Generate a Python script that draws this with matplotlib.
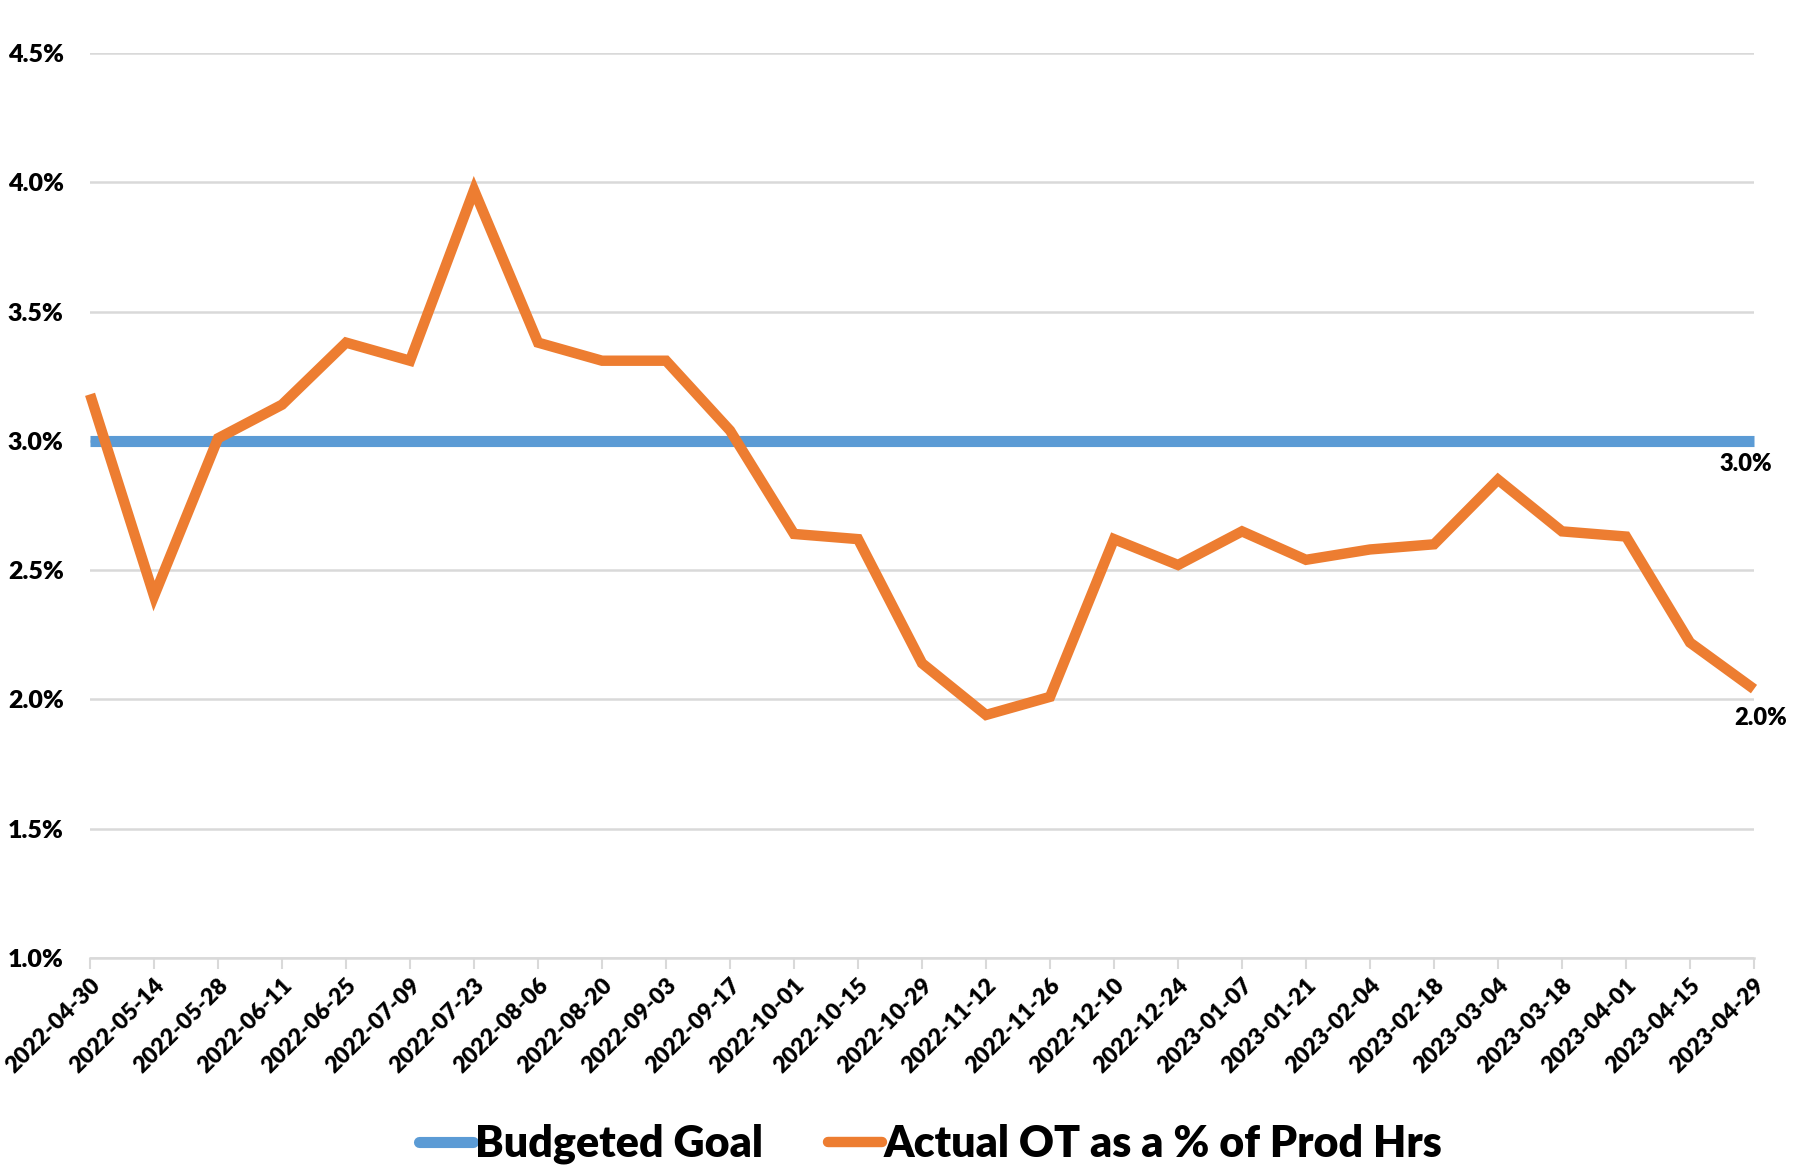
import numpy as np
import matplotlib.pyplot as plt
from matplotlib.ticker import FuncFormatter

# Data
dates = ["2022-04-30", "2022-05-14", "2022-05-28", "2022-06-11", "2022-06-25",
         "2022-07-09", "2022-07-23", "2022-08-06", "2022-08-20", "2022-09-03",
         "2022-09-17", "2022-10-01", "2022-10-15", "2022-10-29", "2022-11-12",
         "2022-11-26", "2022-12-10", "2022-12-24", "2023-01-07", "2023-01-21",
         "2023-02-04", "2023-02-18", "2023-03-04", "2023-03-18", "2023-04-01",
         "2023-04-15", "2023-04-29"]
actual_ot = [3.18, 2.40, 3.01, 3.14, 3.38, 3.31, 3.97, 3.38, 3.31, 3.31,
             3.04, 2.64, 2.62, 2.14, 1.94, 2.01, 2.62, 2.52, 2.65, 2.54,
             2.58, 2.60, 2.85, 2.65, 2.63, 2.22, 2.04]
budget_goal = [3.0] * len(dates)

blue = "#5B9BD5"
orange = "#ED7D31"
grid_col = "#D9D9D9"
font = "Lato"
weight = "heavy"

fig = plt.figure(figsize=(17.94, 11.68), dpi=100)
ax = fig.add_axes([0.0502, 0.1798, 0.9275, 0.7748])

x = np.arange(len(dates))
ax.plot(x, budget_goal, color=blue, lw=8, solid_capstyle="butt", label="Budgeted Goal", zorder=3)
ax.plot(x, actual_ot, color=orange, lw=7.5, solid_joinstyle="miter", solid_capstyle="butt",
        label="Actual OT as a % of Prod Hrs", zorder=4)

# End labels
ax.annotate(f"{budget_goal[-1]:.1f}%", (x[-1], budget_goal[-1]), xytext=(-6, -17),
            textcoords="offset points", ha="center", va="center",
            fontsize=17, fontweight=weight, family=font)
ax.annotate(f"{actual_ot[-1]:.1f}%", (x[-1], actual_ot[-1]), xytext=(5, -21),
            textcoords="offset points", ha="center", va="center",
            fontsize=17, fontweight=weight, family=font)

ax.set_xlim(0, len(dates) - 1)
ax.set_ylim(1.0, 4.5)
ax.set_yticks(np.arange(1.0, 4.51, 0.5))
ax.yaxis.set_major_formatter(FuncFormatter(lambda v, p: f"{v:.1f}%"))
ax.set_xticks(x)
ax.set_xticklabels(dates, rotation=45, ha="right", rotation_mode="anchor")

for lab in ax.get_yticklabels():
    lab.set_fontsize(18)
    lab.set_fontweight(weight)
    lab.set_family(font)
for lab in ax.get_xticklabels():
    lab.set_fontsize(16.5)
    lab.set_fontweight(weight)
    lab.set_family(font)

ax.grid(True, axis="y", color=grid_col, lw=1.8, zorder=0)
for s in ["top", "right", "left"]:
    ax.spines[s].set_visible(False)
ax.spines["bottom"].set_color(grid_col)
ax.spines["bottom"].set_linewidth(1.8)
ax.tick_params(axis="y", length=0, pad=19)
ax.tick_params(axis="x", length=8, width=1.5, color=grid_col, pad=4)
for ln in ax.lines:
    ln.set_clip_on(False)

leg = fig.legend(loc="lower center", bbox_to_anchor=(0.519, -0.03), ncol=2, frameon=False,
                 handlelength=1.25, columnspacing=1.5, handletextpad=0.05,
                 prop={"family": font, "weight": weight, "size": 31})
for h in leg.get_lines():
    h.set_solid_capstyle("round")

fig.savefig("out.png", dpi=100)
